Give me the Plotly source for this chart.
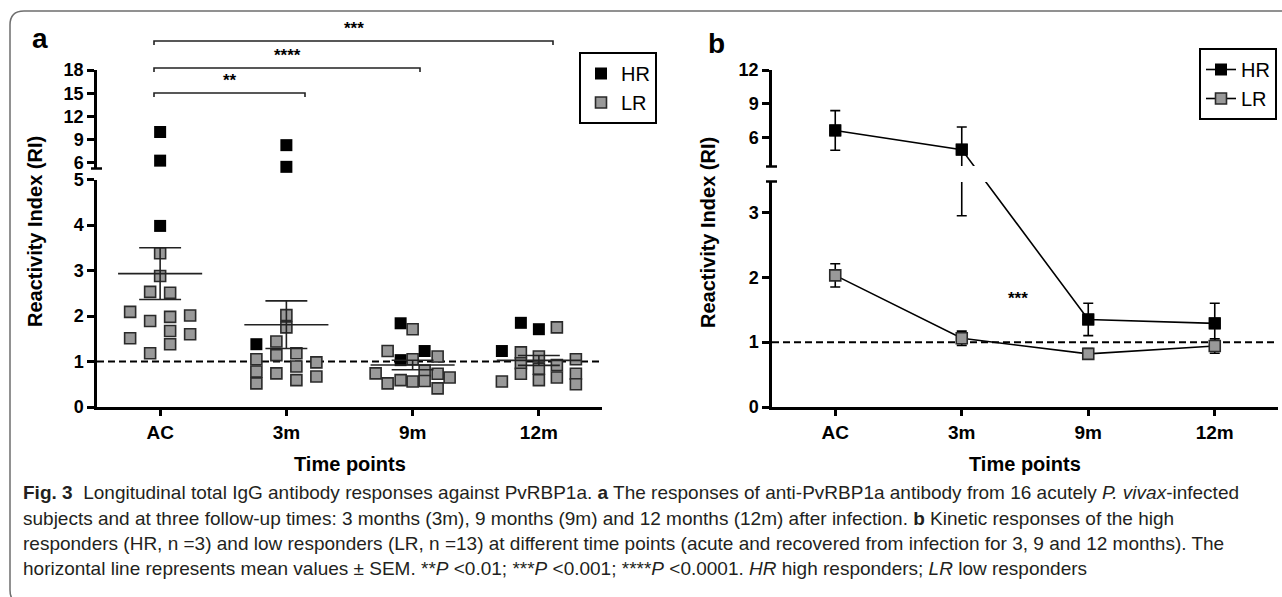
import plotly.graph_objects as go
import numpy as np

W, H = 1282, 597

categories = ["AC", "3m", "9m", "12m"]

# ---------------- Panel a: individual reactivity index values ----------------
hr_values = [
    [10.0, 6.3, 3.98],
    [8.3, 5.5, 1.38],
    [1.84, 1.23, 1.03],
    [1.23, 1.85, 1.71],
]
lr_values = [
    [3.38, 2.88, 2.53, 2.51, 2.09, 1.89, 1.98, 2.01, 1.67, 1.51, 1.60, 1.38, 1.18],
    [1.05, 0.78, 0.52, 1.44, 1.14, 0.74, 2.02, 1.75, 1.18, 0.89, 0.59, 0.98, 0.67],
    [1.71, 1.23, 1.05, 1.11, 0.80, 0.74, 0.73, 0.65, 0.52, 0.59, 0.56, 0.57, 0.41],
    [0.56, 1.20, 0.96, 0.73, 1.11, 0.84, 0.59, 1.75, 0.92, 0.65, 1.05, 0.73, 0.50],
]
# horizontal scatter-column offsets of each dot (pixels from the category centre)
hr_offsets = [[0, 0, 0], [0, 0, -30], [-12, 12, -12], [-37, -18, 0]]
lr_offsets = [
    [0, 0, -10, 10, -30, -10, 10, 30, 10, -30, 30, 10, -10],
    [-30, -30, -30, -10, -10, -10, 0, 0, 10, 10, 10, 30, 30],
    [0, -25, 0, 25, 12, -37, 25, 37, -25, -12, 0, 12, 25],
    [-37, -18, -18, -18, 0, 0, 0, 18, 18, 18, 37, 37, 37],
]

# ---------------- Panel b: group means ± SEM ----------------
hr_mean = [6.65, 4.95, 1.35, 1.29]
hr_sem = [1.75, 2.0, 0.25, 0.31]
lr_mean = [2.03, 1.06, 0.82, 0.94]
lr_sem = [0.18, 0.11, 0.08, 0.11]

ticks_a_low = [0, 1, 2, 3, 4, 5]
ticks_a_up = [6, 9, 12, 15, 18]
ticks_b_low = [0, 1, 2, 3]
ticks_b_up = [6, 9, 12]

sig_a = [("***", 0, 3), ("****", 0, 2), ("**", 0, 1)]
sig_b = "***"

caption_lines = [
    "<b>Fig. 3</b>  Longitudinal total IgG antibody responses against PvRBP1a. <b>a</b> The responses of anti-PvRBP1a antibody from 16 acutely <i>P. vivax</i>-infected",
    "subjects and at three follow-up times: 3 months (3m), 9 months (9m) and 12 months (12m) after infection. <b>b</b> Kinetic responses of the high",
    "responders (HR, n =3) and low responders (LR, n =13) at different time points (acute and recovered from infection for 3, 9 and 12 months). The",
    "horizontal line represents mean values ± SEM. **<i>P</i> &lt;0.01; ***<i>P</i> &lt;0.001; ****<i>P</i> &lt;0.0001. <i>HR</i> high responders; <i>LR</i> low responders",
]

# ---------------- geometry ----------------
FONT = "Liberation Sans, Arial, sans-serif"
CAP_FONT = "Liberation Sans, Arial, sans-serif"
GRAY = "#999999"
EDGE = "#2a2a2a"


def X(p):
    return p / W


def Y(p):
    return 1 - p / H


A_X = [X(97), X(602)]
A_LOW = [Y(407), Y(179.5)]
A_UP = [Y(168), Y(70)]
B_X = [X(772), X(1278)]
B_LOW = [Y(407), Y(182)]
B_UP = [Y(166), Y(70)]
RA_LOW = [0, 5]
RA_UP = [5.35, 18]
RB_LOW = [0, 3.47]
RB_UP = [3.5, 12]
XR = [-0.5, 3.5]
PX_PER_CAT = (602 - 97) / 4.0


def to_paper(v, dom, rng):
    return dom[0] + (v - rng[0]) / (rng[1] - rng[0]) * (dom[1] - dom[0])


def from_paper(p, dom, rng):
    return rng[0] + (p - dom[0]) / (dom[1] - dom[0]) * (rng[1] - rng[0])


fig = go.Figure()

hr_marker = dict(symbol="square", size=12, color="black", line=dict(width=0))
lr_marker = dict(symbol="square", size=11, color=GRAY, line=dict(width=1.6, color=EDGE))


# ---- panel a dots ----
def scatter_pts(values, offsets, lo, hi):
    xs, ys = [], []
    for i, (vals, offs) in enumerate(zip(values, offsets)):
        for v, o in zip(vals, offs):
            if lo <= v <= hi:
                xs.append(i + o / PX_PER_CAT)
                ys.append(v)
    return xs, ys


x, y = scatter_pts(hr_values, hr_offsets, RA_LOW[0], RA_LOW[1])
fig.add_trace(go.Scatter(x=x, y=y, mode="markers", marker=hr_marker, name="HR",
                         xaxis="x", yaxis="y", cliponaxis=False, legend="legend"))
x, y = scatter_pts(lr_values, lr_offsets, RA_LOW[0], RA_LOW[1])
fig.add_trace(go.Scatter(x=x, y=y, mode="markers", marker=lr_marker, name="LR",
                         xaxis="x", yaxis="y", cliponaxis=False, legend="legend"))
x, y = scatter_pts(hr_values, hr_offsets, RA_UP[0], RA_UP[1])
fig.add_trace(go.Scatter(x=x, y=y, mode="markers", marker=hr_marker, showlegend=False,
                         xaxis="x2", yaxis="y2", cliponaxis=False))

# ---- panel a mean ± SEM ----
lx, ly = [], []
for i in range(4):
    allv = np.array(hr_values[i] + lr_values[i])
    m = allv.mean()
    s = allv.std(ddof=1) / np.sqrt(len(allv))
    lx += [i - 0.333, i + 0.333, None, i - 0.166, i + 0.166, None,
           i - 0.166, i + 0.166, None, i, i, None]
    ly += [m, m, None, m + s, m + s, None, m - s, m - s, None, m - s, m + s, None]
fig.add_trace(go.Scatter(x=lx, y=ly, mode="lines", line=dict(color="#222222", width=1.6),
                         showlegend=False, xaxis="x", yaxis="y", hoverinfo="skip"))

# ---- panel b ----
xs = list(range(4))
hr_low_line = [v if v <= RB_LOW[1] else from_paper(to_paper(v, B_UP, RB_UP), B_LOW, RB_LOW) for v in hr_mean]
hr_up_line = [v if v >= RB_UP[0] else from_paper(to_paper(v, B_LOW, RB_LOW), B_UP, RB_UP) for v in hr_mean]

eb = dict(type="data", array=hr_sem, color="black", thickness=1.6, width=5)
fig.add_trace(go.Scatter(x=xs, y=hr_mean, mode="markers", marker=hr_marker, error_y=eb,
                         showlegend=False, xaxis="x4", yaxis="y4"))
fig.add_trace(go.Scatter(x=xs, y=hr_mean, mode="markers", marker=hr_marker, error_y=eb,
                         showlegend=False, xaxis="x3", yaxis="y3"))
fig.add_trace(go.Scatter(x=xs, y=hr_up_line, mode="lines+markers", marker=hr_marker,
                         line=dict(color="black", width=1.6), showlegend=False,
                         xaxis="x4", yaxis="y4"))
fig.add_trace(go.Scatter(x=xs, y=hr_low_line, mode="lines+markers", marker=hr_marker,
                         line=dict(color="black", width=1.6), name="HR", legend="legend2",
                         xaxis="x3", yaxis="y3"))
fig.add_trace(go.Scatter(x=xs, y=lr_mean, mode="lines+markers", marker=lr_marker,
                         line=dict(color="black", width=1.6), name="LR", legend="legend2",
                         error_y=dict(type="data", array=lr_sem, color="black", thickness=1.6, width=5),
                         xaxis="x3", yaxis="y3"))


# ---------------- axes ----------------
def yax(domain, rng, ticks, anchor):
    return dict(domain=domain, range=rng, tickvals=ticks, ticktext=[str(t) for t in ticks],
                anchor=anchor, showline=True, linecolor="black", linewidth=2.5,
                ticks="outside", ticklen=7, tickwidth=2.5, tickcolor="black",
                showgrid=False, zeroline=False, fixedrange=True, automargin=False,
                tickfont=dict(family=FONT, size=18, color="black", weight="bold"))


def xax(domain, anchor, visible=True):
    return dict(domain=domain, range=XR, anchor=anchor, visible=visible,
                tickvals=list(range(4)), ticktext=categories, showline=True,
                linecolor="black", linewidth=2.5, ticks="outside", ticklen=6,
                tickwidth=2.5, tickcolor="black", showgrid=False, zeroline=False,
                fixedrange=True, automargin=False,
                tickfont=dict(family=FONT, size=19, color="black", weight="bold"))


shapes = []
shapes.append(dict(type="line", xref="x", yref="y", x0=XR[0], x1=XR[1], y0=1, y1=1,
                   line=dict(color="black", width=2, dash="7px,4px"), layer="below"))
shapes.append(dict(type="line", xref="x3", yref="y3", x0=XR[0], x1=XR[1], y0=1, y1=1,
                   line=dict(color="black", width=2, dash="7px,4px"), layer="below"))

br_rows = [41, 68, 93]
ends = {3: 553, 2: 420, 1: 305}
annotations = []
for (txt, i0, i1), yb in zip(sig_a, br_rows):
    x0p, x1p = 154, ends[i1]
    path = "M{},{} L{},{} L{},{} L{},{}".format(X(x0p), Y(yb + 4), X(x0p), Y(yb), X(x1p), Y(yb), X(x1p), Y(yb + 4))
    shapes.append(dict(type="path", xref="paper", yref="paper", path=path,
                       line=dict(color="#222222", width=1.6)))
    annotations.append(dict(text="<b>" + txt + "</b>", x=X((x0p + x1p) / 2), y=Y(yb - 1),
                            xref="paper", yref="paper", xanchor="center", yanchor="bottom",
                            showarrow=False, font=dict(family=FONT, size=17, color="black")))

annotations.append(dict(text="<b>" + sig_b + "</b>", x=X(1018), y=Y(310), xref="paper", yref="paper",
                        xanchor="center", yanchor="bottom", showarrow=False,
                        font=dict(family=FONT, size=17, color="black")))

for (ax_x, yy) in [(97, 168.5), (772, 166.5), (772, 181.5)]:
    shapes.append(dict(type="line", xref="paper", yref="paper", x0=X(ax_x - 6), x1=X(ax_x + 5),
                       y0=Y(yy), y1=Y(yy), line=dict(color="black", width=2.5)))

r = 14
fx0, fy0, fx1, fy1 = 10, 11, 1300, 604
frame = ("M{},{} L{},{} Q{},{} {},{} L{},{} Q{},{} {},{} L{},{} Q{},{} {},{} L{},{} Q{},{} {},{} Z").format(
    X(fx0), Y(fy1 - r), X(fx0), Y(fy0 + r), X(fx0), Y(fy0), X(fx0 + r), Y(fy0),
    X(fx1 - r), Y(fy0), X(fx1), Y(fy0), X(fx1), Y(fy0 + r),
    X(fx1), Y(fy1 - r), X(fx1), Y(fy1), X(fx1 - r), Y(fy1),
    X(fx0 + r), Y(fy1), X(fx0), Y(fy1), X(fx0), Y(fy1 - r))
shapes.append(dict(type="path", xref="paper", yref="paper", path=frame,
                   line=dict(color="#6e6e6e", width=1.5)))


def centered(text, xp, yp, size, angle=0):
    return dict(text=text, x=X(xp), y=Y(yp), xref="paper", yref="paper", showarrow=False,
                xanchor="center", yanchor="middle", textangle=angle,
                font=dict(family=FONT, size=size, color="black"))


annotations += [
    centered("<b>a</b>", 40, 38, 28),
    centered("<b>b</b>", 716, 43, 28),
    centered("<b>Reactivity Index (RI)</b>", 35, 232, 20, -90),
    centered("<b>Reactivity Index (RI)</b>", 708, 232, 20, -90),
    centered("<b>Time points</b>", 350, 464, 20),
    centered("<b>Time points</b>", 1025, 464, 20),
]
for k, line in enumerate(caption_lines):
    annotations.append(dict(text=line, x=X(21), y=Y(493 + k * 25), xref="paper", yref="paper",
                            xanchor="left", yanchor="middle", showarrow=False,
                            font=dict(family=CAP_FONT, size=19, color="#231f20")))

legend_style = dict(bordercolor="black", borderwidth=2, bgcolor="white",
                    font=dict(family=FONT, size=20, color="black"),
                    xanchor="left", yanchor="top", tracegroupgap=0)

fig.update_layout(
    width=W, height=H, margin=dict(l=0, r=0, t=0, b=0, autoexpand=False),
    paper_bgcolor="white", plot_bgcolor="white",
    xaxis=xax(A_X, "y"), yaxis=yax(A_LOW, RA_LOW, ticks_a_low, "x"),
    xaxis2=xax(A_X, "y2", visible=False), yaxis2=yax(A_UP, RA_UP, ticks_a_up, "x2"),
    xaxis3=xax(B_X, "y3"), yaxis3=yax(B_LOW, RB_LOW, ticks_b_low, "x3"),
    xaxis4=xax(B_X, "y4", visible=False), yaxis4=yax(B_UP, RB_UP, ticks_b_up, "x4"),
    legend=dict(x=X(579), y=Y(52), **legend_style),
    legend2=dict(x=X(1199), y=Y(48), **legend_style),
    shapes=shapes, annotations=annotations, showlegend=True,
)

fig.write_html("out.html", config={"displayModeBar": False},
               post_script="document.body.style.margin='0px';document.body.style.overflow='hidden';")
